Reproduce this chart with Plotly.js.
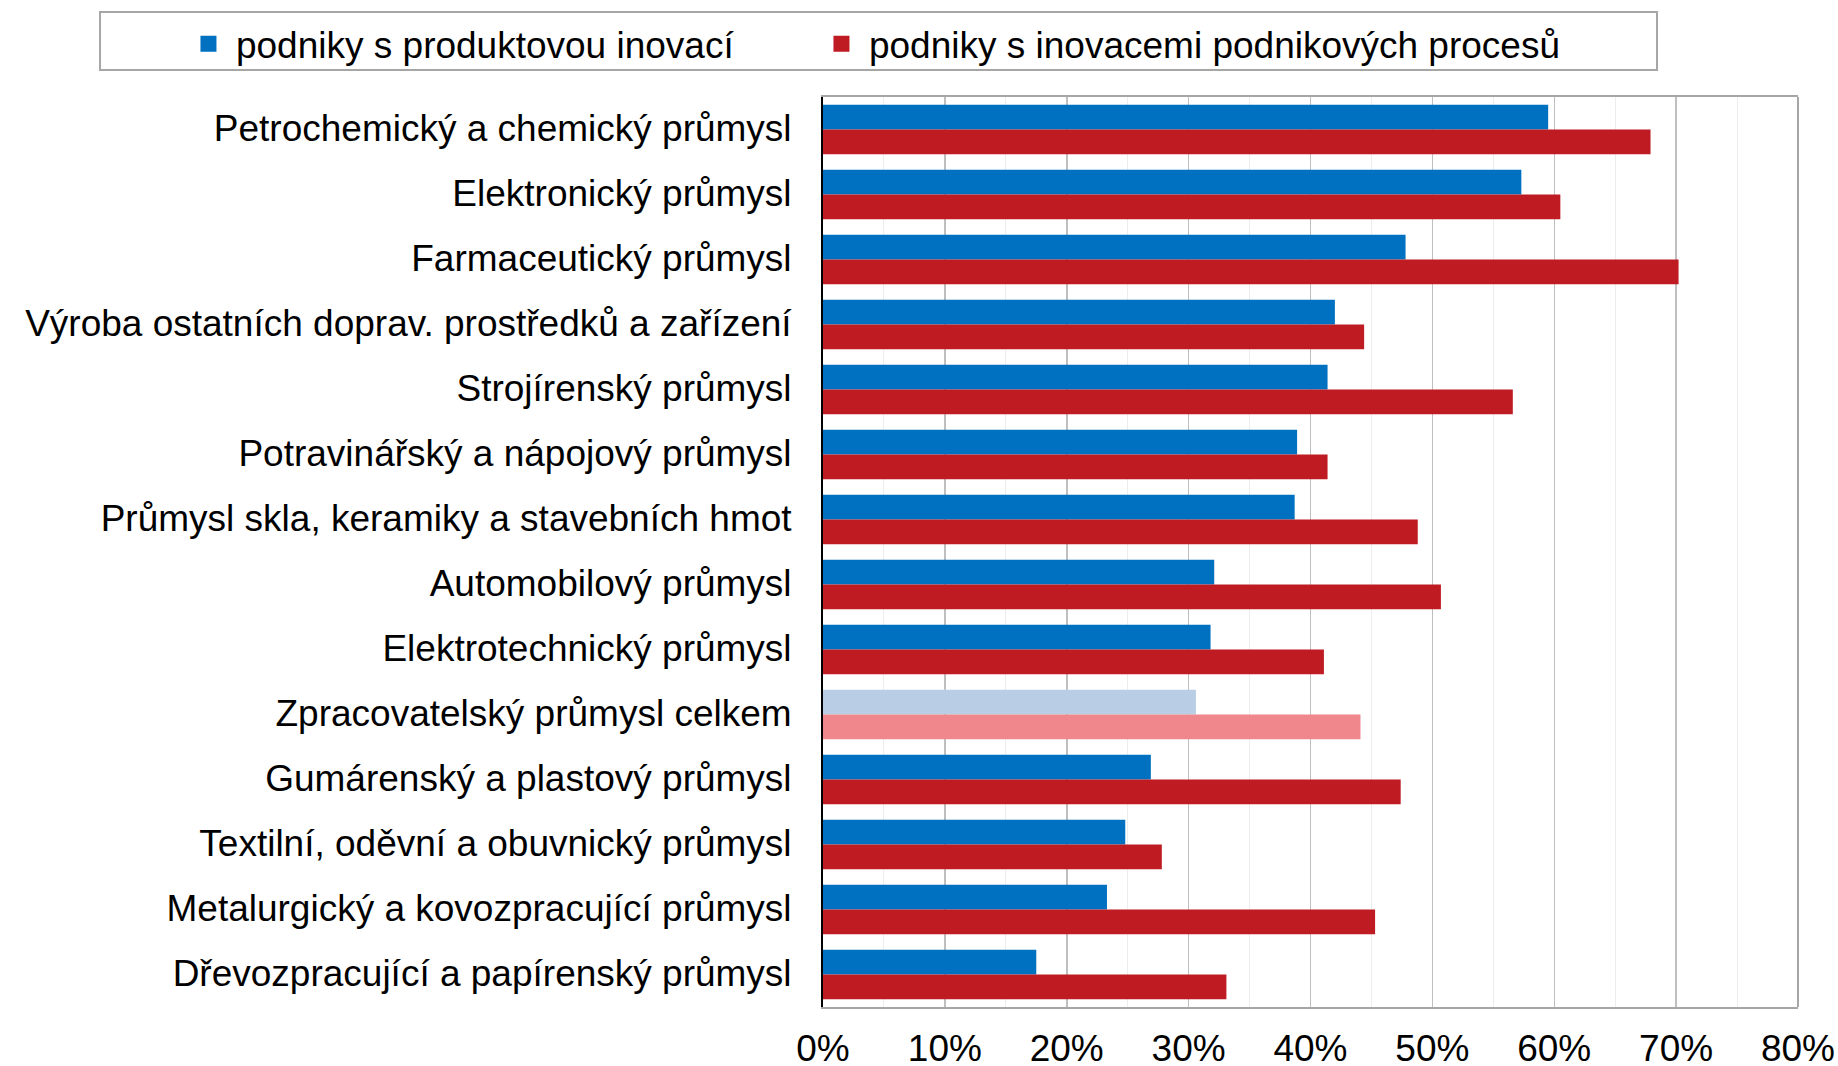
<!DOCTYPE html>
<html>
<head>
<meta charset="utf-8">
<script src="https://cdn.plot.ly/plotly-3.0.1.min.js"></script>
<style>html,body{margin:0;padding:0;background:#fff;}#chart{width:1838px;height:1066px;}</style>
</head>
<body>
<div id="chart"></div>
<script>
const categories = [
  "Petrochemický a chemický průmysl",
  "Elektronický průmysl",
  "Farmaceutický průmysl",
  "Výroba ostatních doprav. prostředků a zařízení",
  "Strojírenský průmysl",
  "Potravinářský a nápojový průmysl",
  "Průmysl skla, keramiky a stavebních hmot",
  "Automobilový průmysl",
  "Elektrotechnický průmysl",
  "Zpracovatelský průmysl celkem",
  "Gumárenský a plastový průmysl",
  "Textilní, oděvní a obuvnický průmysl",
  "Metalurgický a kovozpracující průmysl",
  "Dřevozpracující a papírenský průmysl"
];
const productInnovation = [59.5, 57.3, 47.8, 42.0, 41.4, 38.9, 38.7, 32.1, 31.8, 30.6, 26.9, 24.8, 23.3, 17.5];
const processInnovation = [67.9, 60.5, 70.2, 44.4, 56.6, 41.4, 48.8, 50.7, 41.1, 44.1, 47.4, 27.8, 45.3, 33.1];
const seriesNames = ["podniky s produktovou inovací", "podniky s inovacemi podnikových procesů"];
const totalCategory = "Zpracovatelský průmysl celkem";

const blue = "#0070C0", red = "#BE1B22", lightBlue = "#B9CDE5", lightRed = "#F0878C";
const blueColors = categories.map(c => c === totalCategory ? lightBlue : blue);
const redColors = categories.map(c => c === totalCategory ? lightRed : red);

const FONT = "Liberation Sans, Arial, sans-serif";

const traces = [
  {type: "bar", orientation: "h", y: categories, x: productInnovation, name: seriesNames[0],
   marker: {color: blueColors}, showlegend: false},
  {type: "bar", orientation: "h", y: categories, x: processInnovation, name: seriesNames[1],
   marker: {color: redColors}, showlegend: false},
  {type: "scatter", mode: "markers", x: [null], y: [null], name: seriesNames[0],
   marker: {symbol: "square", size: 16, color: blue}, showlegend: true, legendwidth: 573},
  {type: "scatter", mode: "markers", x: [null], y: [null], name: seriesNames[1],
   marker: {symbol: "square", size: 16, color: red}, showlegend: true}
];

const layout = {
  width: 1838, height: 1066,
  margin: {l: 823, r: 40, t: 97, b: 59},
  paper_bgcolor: "#fff", plot_bgcolor: "#fff",
  font: {family: FONT, size: 37, color: "#000"},
  barmode: "group", bargap: 0.24, bargroupgap: 0,
  xaxis: {
    range: [0, 80], dtick: 10, ticksuffix: "%", fixedrange: true,
    showgrid: true, gridcolor: "#BFBFBF", gridwidth: 1.5,
    minor: {dtick: 5, showgrid: true, gridcolor: "#EDEDED", gridwidth: 1},
    showline: true, linecolor: "#A6A6A6", linewidth: 2, mirror: true,
    ticks: "outside", ticklen: 8, tickcolor: "rgba(0,0,0,0)",
    zeroline: false, tickfont: {size: 37, family: FONT}
  },
  yaxis: {
    type: "category", autorange: "reversed", fixedrange: true,
    showline: true, linecolor: "#000", linewidth: 2,
    ticks: "outside", ticklen: 22, tickcolor: "rgba(0,0,0,0)",
    ticklabelshift: 1,
    showgrid: false, tickfont: {size: 37, family: FONT}
  },
  showlegend: true,
  legend: {
    orientation: "h", x: -0.6585, xanchor: "left", y: 1.058, yanchor: "middle",
    bgcolor: "rgba(0,0,0,0)", borderwidth: 0, itemwidth: 45,
    entrywidth: 0, entrywidthmode: "pixels",
    font: {size: 37, family: FONT}, traceorder: "normal"
  },
  shapes: [
    {type: "rect", xref: "paper", yref: "paper", x0: -0.7415, x1: 0.8554, y0: 1.0297, y1: 1.0934,
     line: {color: "#A6A6A6", width: 2}, fillcolor: "rgba(0,0,0,0)"},
    {type: "line", xref: "paper", yref: "paper", x0: 1, x1: 1, y0: 0, y1: 1,
     line: {color: "#A6A6A6", width: 2}}
  ]
};

Plotly.newPlot("chart", traces, layout, {staticPlot: true, displayModeBar: false});
</script>
</body>
</html>
